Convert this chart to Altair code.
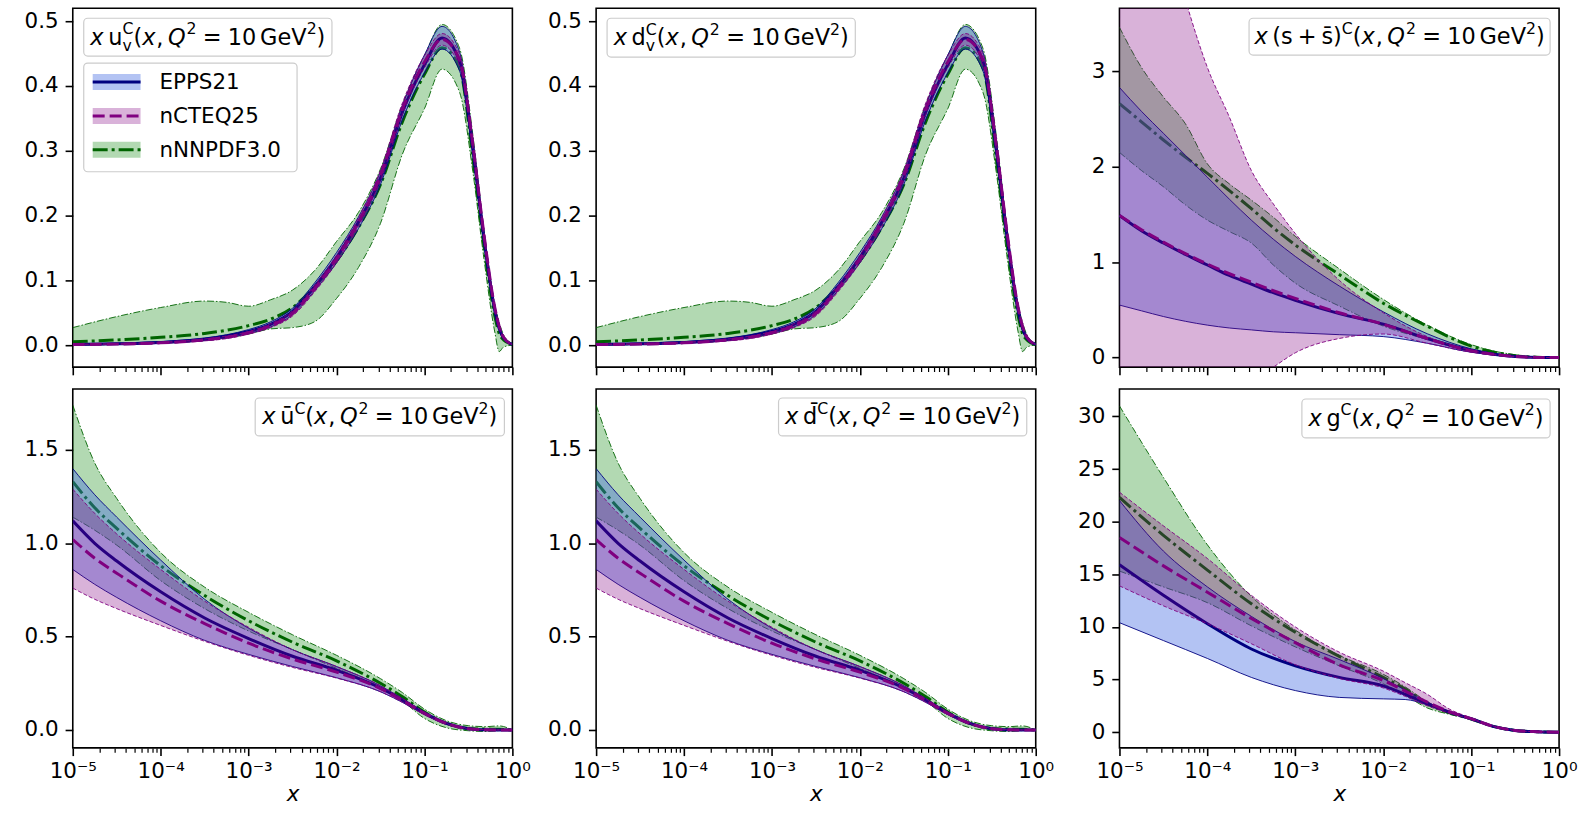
import altair as alt
import pandas as pd

# ---------------- data ----------------
SETS = ["EPPS21", "nCTEQ25", "nNNPDF3.0"]
DRAW_ORDER = ["nNNPDF3.0", "EPPS21", "nCTEQ25"]

X_TICK_LABELS = ["10⁻⁵", "10⁻⁴", "10⁻³", "10⁻²", "10⁻¹", "10⁰"]

# valence grid (log10 x)
LX_V = [-5, -4.5, -4, -3.5, -3.25, -3, -2.75, -2.5, -2.25, -2, -1.75, -1.5, -1.25, -1,
        -0.8, -0.6, -0.45, -0.33, -0.2, -0.15, -0.1, 0]
UV_EPPS_C = [0.001, 0.002, 0.004, 0.009, 0.014, 0.021, 0.032, 0.052, 0.09, 0.135, 0.19, 0.258, 0.36, 0.433,
             0.474, 0.438, 0.305, 0.172, 0.054, 0.026, 0.011, 0.001]
UV_EPPS_HI = [0.0015, 0.003, 0.0055, 0.011, 0.016, 0.024, 0.036, 0.057, 0.096, 0.143, 0.198, 0.268, 0.37, 0.448,
              0.492, 0.452, 0.318, 0.182, 0.060, 0.030, 0.013, 0.0015]
UV_EPPS_LO = [0.0005, 0.001, 0.003, 0.007, 0.011, 0.018, 0.028, 0.047, 0.084, 0.127, 0.18, 0.248, 0.348, 0.42,
              0.457, 0.423, 0.292, 0.162, 0.048, 0.022, 0.009, 0.0005]
UV_NCTEQ_C = [0.001, 0.0015, 0.0035, 0.008, 0.012, 0.019, 0.030, 0.049, 0.087, 0.133, 0.19, 0.262, 0.365, 0.437,
              0.472, 0.44, 0.31, 0.178, 0.058, 0.029, 0.012, 0.001]
UV_NCTEQ_HI = [0.0015, 0.0025, 0.0045, 0.0095, 0.014, 0.021, 0.033, 0.053, 0.092, 0.139, 0.197, 0.27, 0.374, 0.447,
               0.481, 0.449, 0.318, 0.185, 0.062, 0.032, 0.014, 0.0015]
UV_NCTEQ_LO = [0.0005, 0.001, 0.0025, 0.0065, 0.010, 0.017, 0.027, 0.045, 0.082, 0.127, 0.183, 0.254, 0.356, 0.428,
               0.463, 0.431, 0.302, 0.171, 0.054, 0.026, 0.010, 0.0005]
UV_NNPDF_C = [0.005, 0.008, 0.012, 0.018, 0.023, 0.030, 0.040, 0.058, 0.09, 0.13, 0.182, 0.248, 0.345, 0.418,
              0.459, 0.428, 0.29, 0.16, 0.045, 0.018, 0.008, 0.001]
UV_NNPDF_HI = [0.027, 0.044, 0.058, 0.068, 0.066, 0.060, 0.070, 0.085, 0.115, 0.16, 0.205, 0.272, 0.372, 0.447,
               0.495, 0.458, 0.325, 0.185, 0.062, 0.035, 0.016, 0.002]
UV_NNPDF_LO = [0.0, 0.001, 0.003, 0.007, 0.011, 0.017, 0.025, 0.027, 0.036, 0.072, 0.12, 0.188, 0.295, 0.365,
               0.426, 0.39, 0.268, 0.14, 0.02, -0.01, -0.003, 0.0]

# sea-quark grid (log10 x)
LX_S = [-5, -4.75, -4.5, -4, -3.5, -3, -2.5, -2, -1.5, -1.25, -1, -0.75, -0.5, -0.3, -0.15, 0]
UB_EPPS_C = [1.12, 1.0, 0.905, 0.74, 0.60, 0.49, 0.395, 0.32, 0.225, 0.16, 0.09, 0.035, 0.007, 0.001, 0.0, 0.0]
UB_EPPS_HI = [1.40, 1.26, 1.14, 0.91, 0.70, 0.545, 0.43, 0.34, 0.237, 0.168, 0.096, 0.039, 0.009, 0.002, 0.0005, 0.0]
UB_EPPS_LO = [0.86, 0.78, 0.71, 0.585, 0.48, 0.405, 0.34, 0.28, 0.205, 0.148, 0.082, 0.031, 0.005, 0.0, 0.0, 0.0]
UB_NCTEQ_C = [1.02, 0.92, 0.84, 0.69, 0.57, 0.465, 0.38, 0.31, 0.222, 0.158, 0.089, 0.035, 0.007, 0.001, 0.0, 0.0]
UB_NCTEQ_HI = [1.29, 1.16, 1.05, 0.86, 0.69, 0.55, 0.43, 0.34, 0.237, 0.168, 0.096, 0.039, 0.009, 0.002, 0.0005, 0.0]
UB_NCTEQ_LO = [0.76, 0.70, 0.65, 0.56, 0.475, 0.40, 0.335, 0.278, 0.205, 0.148, 0.082, 0.031, 0.005, 0.0, 0.0, 0.0]
UB_NNPDF_C = [1.33, 1.19, 1.08, 0.88, 0.72, 0.585, 0.47, 0.37, 0.25, 0.178, 0.096, 0.035, 0.008, 0.005, 0.004, 0.0]
UB_NNPDF_HI = [1.74, 1.43, 1.24, 0.95, 0.765, 0.63, 0.51, 0.40, 0.275, 0.20, 0.112, 0.05, 0.023, 0.018, 0.022, 0.0]
UB_NNPDF_LO = [1.14, 1.07, 0.99, 0.80, 0.65, 0.53, 0.43, 0.33, 0.225, 0.155, 0.062, 0.012, -0.004, -0.008, -0.003, 0.0]

# strange grid (log10 x)
LX_SS = [-5, -4.75, -4.5, -4.25, -4, -3.75, -3.5, -3.25, -3, -2.5, -2, -1.5, -1, -0.75, -0.5, -0.25, 0]
SS_EPPS_C = [1.49, 1.33, 1.2, 1.08, 0.97, 0.86, 0.77, 0.68, 0.60, 0.46, 0.35, 0.20, 0.075, 0.036, 0.012, 0.002, 0.0]
SS_EPPS_HI = [2.83, 2.58, 2.35, 2.12, 1.89, 1.66, 1.44, 1.24, 1.06, 0.75, 0.48, 0.25, 0.092, 0.045, 0.016, 0.003, 0.0]
SS_EPPS_LO = [0.55, 0.49, 0.43, 0.38, 0.34, 0.31, 0.29, 0.27, 0.26, 0.24, 0.22, 0.15, 0.056, 0.028, 0.008, 0.001, 0.0]
SS_NCTEQ_C = [1.49, 1.34, 1.21, 1.09, 0.98, 0.88, 0.79, 0.70, 0.62, 0.47, 0.35, 0.20, 0.072, 0.034, 0.011, 0.002, 0.0]
SS_NCTEQ_HI = [6.8, 5.6, 4.6, 3.75, 3.04, 2.52, 1.96, 1.61, 1.30, 0.81, 0.47, 0.22, 0.08, 0.038, 0.013, 0.002, 0.0]
SS_NCTEQ_LO = [-2.2, -1.75, -1.35, -1.0, -0.7, -0.45, -0.25, -0.1, 0.05, 0.2, 0.247, 0.15, 0.056, 0.028, 0.008, 0.001, 0.0]
SS_NNPDF_C = [2.66, 2.47, 2.28, 2.10, 1.93, 1.75, 1.56, 1.36, 1.18, 0.87, 0.57, 0.33, 0.12, 0.06, 0.02, 0.004, 0.0]
SS_NNPDF_HI = [3.46, 3.04, 2.73, 2.45, 2.03, 1.82, 1.65, 1.47, 1.27, 0.93, 0.61, 0.34, 0.136, 0.07, 0.03, 0.006, 0.0]
SS_NNPDF_LO = [2.15, 1.96, 1.79, 1.6, 1.44, 1.32, 1.2, 0.97, 0.78, 0.54, 0.33, 0.19, 0.066, 0.03, 0.01, 0.001, 0.0]

# gluon grid (log10 x)
LX_G = [-5, -4.5, -4, -3.5, -3, -2.5, -2, -1.75, -1.5, -1.25, -1, -0.75, -0.5, -0.25, 0]
G_EPPS_C = [15.9, 13.0, 10.3, 7.9, 6.3, 5.2, 4.4, 3.6, 2.7, 1.9, 1.27, 0.55, 0.16, 0.04, 0.0]
G_EPPS_HI = [22.0, 17.2, 13.8, 11.0, 8.6, 6.9, 5.1, 4.0, 2.85, 1.98, 1.3, 0.57, 0.17, 0.045, 0.0]
G_EPPS_LO = [10.4, 8.7, 7.0, 5.2, 3.95, 3.3, 3.16, 3.1, 2.6, 1.82, 1.23, 0.53, 0.15, 0.035, 0.0]
G_NCTEQ_C = [18.5, 15.8, 13.3, 10.8, 8.5, 6.4, 4.9, 3.9, 2.85, 1.95, 1.28, 0.56, 0.16, 0.04, 0.0]
G_NCTEQ_HI = [22.8, 19.6, 16.5, 13.0, 10.0, 7.6, 5.8, 4.7, 3.6, 2.2, 1.35, 0.6, 0.18, 0.045, 0.0]
G_NCTEQ_LO = [13.9, 12.0, 10.3, 8.4, 6.4, 5.1, 4.2, 3.4, 2.5, 1.8, 1.22, 0.52, 0.15, 0.035, 0.0]
G_NNPDF_C = [22.3, 18.7, 15.4, 12.2, 9.5, 7.2, 5.2, 4.1, 2.7, 1.85, 1.25, 0.55, 0.16, 0.04, 0.0]
G_NNPDF_HI = [31.0, 24.2, 17.8, 12.9, 9.7, 7.3, 5.5, 4.3, 2.9, 1.95, 1.3, 0.58, 0.18, 0.045, 0.0]
G_NNPDF_LO = [15.3, 13.8, 12.3, 10.1, 8.1, 6.3, 4.6, 3.5, 2.3, 1.7, 1.2, 0.52, 0.14, 0.03, 0.0]

# panel labels as (text, style) runs: it = italic, rm = upright, sup/sub = scripts, sp = space in em
TAIL = [("(", "rm"), ("x", "it"), (",", "rm"), (0.2, "sp"), ("Q", "it"), ("2", "sup"), (0.28, "sp"),
        ("=", "rm"), (0.28, "sp"), ("10", "rm"), (0.167, "sp"), ("GeV", "rm"), ("2", "sup"), (")", "rm")]
PANEL_LABELS = [
    [("x", "it"), (0.167, "sp"), ("u", "rm"), ("C", "sup"), ("v", "sub0")] + TAIL,
    [("x", "it"), (0.167, "sp"), ("d", "rm"), ("C", "sup"), ("v", "sub0")] + TAIL,
    [("x", "it"), (0.167, "sp"), ("(s", "rm"), (0.22, "sp"), ("+", "rm"), (0.22, "sp"), ("s\u0304)", "rm"),
     ("C", "sup")] + TAIL,
    [("x", "it"), (0.167, "sp"), ("ū", "rm"), ("C", "sup")] + TAIL,
    [("x", "it"), (0.167, "sp"), ("d\u0304", "rm"), ("C", "sup")] + TAIL,
    [("x", "it"), (0.167, "sp"), ("g", "rm"), ("C", "sup")] + TAIL,
]

# ---------------- styles ----------------
FONT = "DejaVu Sans"
FS = 21.5
LFS = 22.5
LINE_COLOR = {"EPPS21": "#000080", "nCTEQ25": "#800080", "nNNPDF3.0": "#006400"}
FILL_COLOR = {"EPPS21": "#4169e1", "nCTEQ25": "#800080", "nNNPDF3.0": "#008000"}
FILL_OPAC = {"EPPS21": 0.4, "nCTEQ25": 0.3, "nNNPDF3.0": 0.3}
DASH_THICK = {"EPPS21": None, "nCTEQ25": [12, 5], "nNNPDF3.0": [15, 4, 3, 4]}
DASH_THIN = {"EPPS21": None, "nCTEQ25": [4, 2], "nNNPDF3.0": [7, 2, 1.5, 2]}

CHAR_W = {" ": 0.318, "(": 0.390, ")": 0.390, ",": 0.318, "=": 0.838, "+": 0.838, "x": 0.592, "u": 0.634,
          "d": 0.635, "g": 0.635, "s": 0.521, "G": 0.775, "e": 0.615, "V": 0.684, "Q": 0.787, "C": 0.698,
          "v": 0.592, "ū": 0.634, "\u0304": 0.0}

XTICKS = [m * 10.0 ** k for k in range(-5, 0) for m in range(1, 10)] + [1.0]
MAJOR_TEST = "abs(log(datum.value)/LN10 - round(log(datum.value)/LN10)) < 0.001"
LABEL_EXPR = ("abs(log(datum.value)/LN10 - round(log(datum.value)/LN10)) < 0.001 ? "
              + "[" + ",".join("'%s'" % s for s in X_TICK_LABELS) + "][round(log(datum.value)/LN10) + 5] : ''")

PW, PH = 441, 360


def text_w(t):
    return sum(CHAR_W.get(ch, 0.636) for ch in t)


def layout_label(parts, F):
    runs = []
    x = 0.0
    prev_start, prev_w = 0.0, 0.0
    for text, kind in parts:
        if kind == "sp":
            x += text * F
            continue
        size = F if kind in ("it", "rm") else 0.7 * F
        dy = {"it": 0.0, "rm": 0.0, "sup": -0.47 * F, "sub0": 0.27 * F}[kind]
        w = text_w(text) * size
        if kind == "sub0":
            runs.append((text, prev_start, dy, size, False))
            x = prev_start + max(prev_w, w)
            continue
        runs.append((text, x, dy, size, kind == "it"))
        prev_start, prev_w = x, w
        x += w + (0.04 * F if kind == "it" else 0.0)
    return runs, x


def build_df(lx, series):
    rows = []
    for s in SETS:
        c, lo, hi = series[s]
        for i, l in enumerate(lx):
            rows.append({"x": 10.0 ** l, "set": s, "c": c[i], "lo": lo[i], "hi": hi[i]})
    return pd.DataFrame(rows)


def line_props(s, thick):
    d = dict(color=LINE_COLOR[s], strokeWidth=3.0 if thick else 0.9, interpolate="monotone", clip=True)
    dash = DASH_THICK[s] if thick else DASH_THIN[s]
    if dash is not None:
        d["strokeDash"] = dash
    return d


def panel(lx, series, ydom, yticks, yfmt, label, box, bottom, legend=False):
    df = build_df(lx, series)
    xaxis = alt.Axis(
        values=XTICKS, labelExpr=LABEL_EXPR, labels=bottom,
        title="x" if bottom else None, titleFontStyle="italic", titleFontWeight="normal",
        titleFont=FONT, titleFontSize=FS, titlePadding=2,
        tickSize={"condition": {"test": MAJOR_TEST, "value": 7.7}, "value": 4.4},
        tickWidth={"condition": {"test": MAJOR_TEST, "value": 1.6}, "value": 1.2},
        labelPadding=5, labelFlush=False, labelOverlap=False,
    )
    xscale = alt.Scale(type="log", domain=[1e-5, 1])
    yscale = alt.Scale(domain=ydom, nice=False, zero=False)
    yaxis = alt.Axis(values=yticks, format=yfmt, title=None, tickSize=7.7, tickWidth=1.6, labelPadding=7)
    X = alt.X("x:Q", scale=xscale, axis=xaxis)
    layers = []
    for s in DRAW_ORDER:
        sub = alt.Chart(df[df["set"] == s])
        layers.append(
            sub.mark_area(color=FILL_COLOR[s], opacity=FILL_OPAC[s], interpolate="monotone", clip=True).encode(
                x=X, y=alt.Y("lo:Q", scale=yscale, axis=yaxis), y2="hi:Q"))
        for col, thick in (("lo", False), ("hi", False), ("c", True)):
            layers.append(sub.mark_line(**line_props(s, thick)).encode(
                x=X, y=alt.Y(col + ":Q", scale=yscale, axis=yaxis)))
    # label box with mathtext-like runs
    layers.append(alt.Chart(pd.DataFrame({"t": ["box"]})).mark_rect(
        fill="white", fillOpacity=0.8, stroke="#cccccc", strokeWidth=1.2, cornerRadius=4).encode(
        x=alt.value(box[0]), x2=alt.value(box[2]), y=alt.value(box[1]), y2=alt.value(box[3])))
    runs, total = layout_label(label, LFS)
    x0 = (box[0] + box[2]) / 2 - total / 2
    base = (box[1] + box[3]) / 2 + 7.5
    for text, rx, dy, size, italic in runs:
        layers.append(alt.Chart(pd.DataFrame({"t": [text]})).mark_text(
            font=FONT, fontSize=size, align="left", baseline="alphabetic", color="black",
            fontStyle="italic" if italic else "normal").encode(
            x=alt.value(x0 + rx), y=alt.value(base + dy), text="t:N"))
    if legend:
        layers.append(alt.Chart(pd.DataFrame({"t": ["legend"]})).mark_rect(
            fill="white", fillOpacity=0.8, stroke="#cccccc", strokeWidth=1.2, cornerRadius=4).encode(
            x=alt.value(11), x2=alt.value(225), y=alt.value(55), y2=alt.value(164)))
        for i, s in enumerate(SETS):
            yy = 74 + 34 * i
            ldf = pd.DataFrame({"t": [s]})
            layers.append(alt.Chart(ldf).mark_rect(fill=FILL_COLOR[s], opacity=FILL_OPAC[s]).encode(
                x=alt.value(20), x2=alt.value(68), y=alt.value(yy - 8), y2=alt.value(yy + 8)))
            rp = dict(color=LINE_COLOR[s], strokeWidth=3.0)
            if DASH_THICK[s] is not None:
                rp["strokeDash"] = DASH_THICK[s]
            layers.append(alt.Chart(ldf).mark_rule(**rp).encode(
                x=alt.value(20), x2=alt.value(68), y=alt.value(yy)))
            layers.append(alt.Chart(ldf).mark_text(font=FONT, fontSize=FS, align="left", baseline="middle",
                                                   color="black").encode(
                x=alt.value(87), y=alt.value(yy + 1), text="t:N"))
    return alt.layer(*layers).properties(width=PW, height=PH)


UV = {"EPPS21": (UV_EPPS_C, UV_EPPS_LO, UV_EPPS_HI), "nCTEQ25": (UV_NCTEQ_C, UV_NCTEQ_LO, UV_NCTEQ_HI),
      "nNNPDF3.0": (UV_NNPDF_C, UV_NNPDF_LO, UV_NNPDF_HI)}
UB = {"EPPS21": (UB_EPPS_C, UB_EPPS_LO, UB_EPPS_HI), "nCTEQ25": (UB_NCTEQ_C, UB_NCTEQ_LO, UB_NCTEQ_HI),
      "nNNPDF3.0": (UB_NNPDF_C, UB_NNPDF_LO, UB_NNPDF_HI)}
SS = {"EPPS21": (SS_EPPS_C, SS_EPPS_LO, SS_EPPS_HI), "nCTEQ25": (SS_NCTEQ_C, SS_NCTEQ_LO, SS_NCTEQ_HI),
      "nNNPDF3.0": (SS_NNPDF_C, SS_NNPDF_LO, SS_NNPDF_HI)}
GG = {"EPPS21": (G_EPPS_C, G_EPPS_LO, G_EPPS_HI), "nCTEQ25": (G_NCTEQ_C, G_NCTEQ_LO, G_NCTEQ_HI),
      "nNNPDF3.0": (G_NNPDF_C, G_NNPDF_LO, G_NNPDF_HI)}

VAL_DOM = [-0.034, 0.52]
VAL_TICKS = [0.0, 0.1, 0.2, 0.3, 0.4, 0.5]
SEA_DOM = [-0.096, 1.826]
SEA_TICKS = [0.0, 0.5, 1.0, 1.5]
SS_DOM = [-0.10, 3.66]
SS_TICKS = [0, 1, 2, 3]
G_DOM = [-1.5, 32.6]
G_TICKS = [0, 5, 10, 15, 20, 25, 30]

p1 = panel(LX_V, UV, VAL_DOM, VAL_TICKS, ".1f", PANEL_LABELS[0], (11, 10, 260, 48), False, legend=True)
p2 = panel(LX_V, UV, VAL_DOM, VAL_TICKS, ".1f", PANEL_LABELS[1], (11, 10, 260, 49), False)
p3 = panel(LX_SS, SS, SS_DOM, SS_TICKS, "d", PANEL_LABELS[2], (130, 10, 432, 47), False)
p4 = panel(LX_S, UB, SEA_DOM, SEA_TICKS, ".1f", PANEL_LABELS[3], (183, 9, 433, 47), True)
p5 = panel(LX_S, UB, SEA_DOM, SEA_TICKS, ".1f", PANEL_LABELS[4], (183, 9, 432, 47), True)
p6 = panel(LX_G, GG, G_DOM, G_TICKS, "d", PANEL_LABELS[5], (183, 10, 432, 49), True)

chart = alt.concat(p1, p2, p3, p4, p5, p6, columns=3, spacing={"row": 22, "column": 84},
                   bounds="flush").properties(
    padding={"left": 23, "top": 6, "right": 5, "bottom": 5},
    background="white",
).configure_view(stroke="black", strokeWidth=1.6).configure_axis(
    grid=False, domain=False, labelFont=FONT, labelFontSize=FS, labelColor="black", tickColor="black",
    titleColor="black",
)

chart.save("out.html", embed_options={"renderer": "svg", "actions": False})
